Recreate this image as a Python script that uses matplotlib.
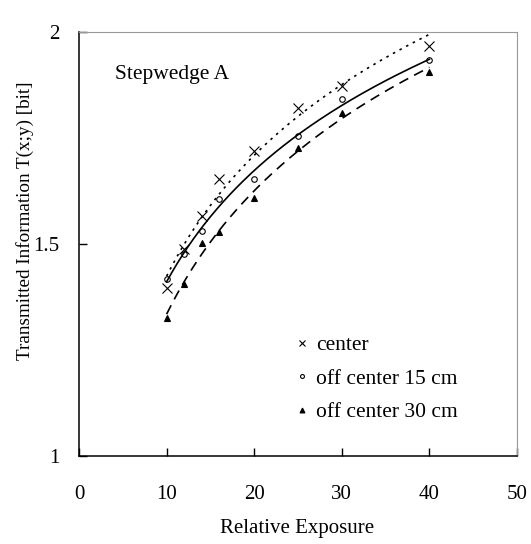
"""
Transmitted information vs. relative exposure for Stepwedge A,
with logarithmic fits for each measurement position.
"""

import matplotlib
matplotlib.use("Agg")
import matplotlib.pyplot as plt
from matplotlib.lines import Line2D
import numpy as np

plt.rcParams["font.family"] = ["Liberation Serif", "DejaVu Serif"]

EXPOSURE = [10, 12, 14, 16, 20, 25, 30, 40]

CENTER = [1.396, 1.488, 1.567, 1.653, 1.719, 1.821, 1.873, 1.967]
OFF_15 = [1.417, 1.476, 1.531, 1.605, 1.653, 1.755, 1.841, 1.933]
OFF_30 = [1.325, 1.405, 1.502, 1.529, 1.609, 1.726, 1.808, 1.906]

LABELS = ["center", "off center 15 cm", "off center 30 cm"]


def log_fit(x, y):
    b, a = np.polyfit(np.log(x), y, 1)
    xs = np.linspace(min(x), max(x), 200)
    return xs, a + b * np.log(xs)


fig = plt.figure(figsize=(5.31, 5.44), dpi=100)
ax = fig.add_axes([0.1488, 0.1618, 0.8248, 0.7794])

series = [
    (CENTER, "x", 7, "none", (0, (1.5, 3.0))),
    (OFF_15, "o", 4, "none", "-"),
    (OFF_30, "^", 5, "black", (0, (6, 4))),
]

handles = []
for (vals, mk, ms, mfc, ls), lab in zip(series, LABELS):
    xs, ys = log_fit(EXPOSURE, vals)
    ax.plot(xs, ys, color="black", linestyle=ls, linewidth=1.2)
    ax.plot(EXPOSURE, vals, linestyle="none", marker=mk, markersize=ms,
            markerfacecolor=mfc, markeredgecolor="black", markeredgewidth=0.8)
    handles.append(Line2D([], [], linestyle="none", marker=mk,
                          markersize=ms * 0.7, markerfacecolor=mfc,
                          markeredgecolor="black", markeredgewidth=0.8,
                          label=lab))

ax.set_xlim(0, 50)
ax.set_ylim(1, 2)
ax.set_xticks([0, 10, 20, 30, 40, 50])
ax.set_yticks([1, 1.5, 2])
ax.set_yticklabels(["1", "1.5", "2"])
ax.tick_params(axis="both", direction="in", length=6, width=1, labelsize=15)
ax.tick_params(axis="x", pad=21)
ax.tick_params(axis="y", pad=14)

for s in ("top", "right"):
    ax.spines[s].set_color("#999999")
for s in ("left", "bottom"):
    ax.spines[s].set_linewidth(1.1)

ax.set_xlabel("Relative Exposure", fontsize=15)
ax.xaxis.set_label_coords(0.499, -0.149)
ax.set_ylabel("Transmitted Information T(x;y) [bit]", fontsize=13.8)
ax.yaxis.set_label_coords(-0.103, 0.554)

ax.text(0.082, 0.9, "Stepwedge A", transform=ax.transAxes, fontsize=15.5,
        va="center", ha="left")

ax.legend(handles=handles, loc="upper left", bbox_to_anchor=(0.46, 0.32),
          frameon=False, fontsize=15.5, handlelength=0.6, handletextpad=0.35,
          labelspacing=0.62, borderpad=0.2)

fig.savefig("out.png", dpi=100)
